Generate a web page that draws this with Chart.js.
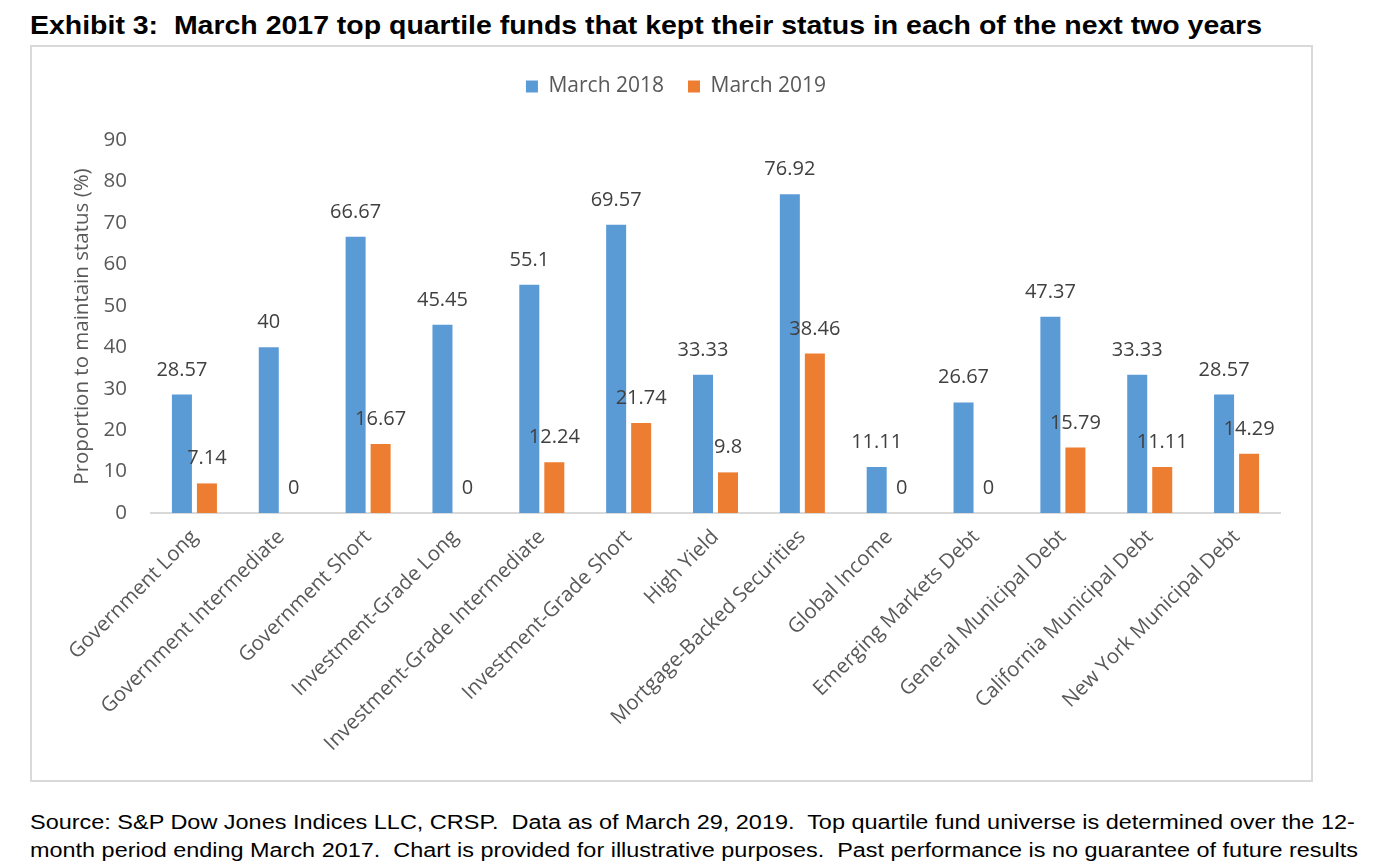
<!DOCTYPE html>
<html>
<head>
<meta charset="utf-8">
<script src="https://cdn.jsdelivr.net/npm/chart.js@4/dist/chart.umd.min.js"></script>
<style>
  body { margin: 0; background: #fff; width: 1380px; height: 863px; position: relative; overflow: hidden; }
  #title { position: absolute; left: 30px; top: 11px; font-family: "Liberation Sans", Arial, sans-serif; font-weight: bold; font-size: 25px; color: #000; white-space: pre; transform-origin: left top; }
  #box { position: absolute; left: 30px; top: 45px; width: 1279px; height: 733px; border: 2px solid #d9d9d9; }
  #source { position: absolute; left: 30px; top: 808px; font-family: "Liberation Sans", Arial, sans-serif; font-size: 20px; line-height: 28px; color: #000; white-space: pre; }
  #source div { transform-origin: left top; }
</style>
</head>
<body>
<div id="title">Exhibit 3:  March 2017 top quartile funds that kept their status in each of the next two years</div>
<div id="box"><canvas id="chart" width="1279" height="733"></canvas></div>
<div id="source"><div id="src1">Source: S&amp;P Dow Jones Indices LLC, CRSP.  Data as of March 29, 2019.  Top quartile fund universe is determined over the 12-</div><div id="src2">month period ending March 2017.  Chart is provided for illustrative purposes.  Past performance is no guarantee of future results</div></div>

<script>
const categories = [
  'Government Long', 'Government Intermediate', 'Government Short', 'Investment-Grade Long',
  'Investment-Grade Intermediate', 'Investment-Grade Short', 'High Yield', 'Mortgage-Backed Securities',
  'Global Income', 'Emerging Markets Debt', 'General Municipal Debt', 'California Municipal Debt',
  'New York Municipal Debt'
];
const march2018 = [28.57, 40, 66.67, 45.45, 55.1, 69.57, 33.33, 76.92, 11.11, 26.67, 47.37, 33.33, 28.57];
const march2019 = [7.14, 0, 16.67, 0, 12.24, 21.74, 9.8, 38.46, 0, 0, 15.79, 11.11, 14.29];
const yTicks = [0, 10, 20, 30, 40, 50, 60, 70, 80, 90];

const FONT = '"Open Sans", sans-serif';

// squeeze the fallback fonts to the width of the original lines
function fitWidth(el, target) {
  const w = el.getBoundingClientRect().width;
  el.style.transform = `scaleX(${target / w})`;
}
fitWidth(document.getElementById('title'), 1232);
fitWidth(document.getElementById('src1'), 1330);
fitWidth(document.getElementById('src2'), 1328);

// extra room under the legend, and centre it on the whole box
const legendGap = {
  id: 'legendGap',
  beforeInit(chart) {
    const legend = chart.legend;
    const fit = legend.fit;
    legend.fit = function () {
      fit.bind(legend)();
      this.height += 33;
    };
    const draw = legend.draw;
    legend.draw = function () {
      chart.ctx.save();
      chart.ctx.translate(20, 0);
      draw.bind(legend)();
      chart.ctx.restore();
    };
  }
};

const valueLabels = {
  id: 'valueLabels',
  afterDatasetsDraw(chart) {
    const ctx = chart.ctx;
    ctx.save();
    ctx.font = '20px ' + FONT;
    ctx.fillStyle = '#404040';
    ctx.textAlign = 'center';
    ctx.textBaseline = 'alphabetic';
    chart.data.datasets.forEach((ds, i) => {
      chart.getDatasetMeta(i).data.forEach((bar, j) => {
        ctx.fillText(String(ds.data[j]), bar.x, bar.y - 19);
      });
    });
    ctx.restore();
  }
};

new Chart(document.getElementById('chart'), {
  type: 'bar',
  data: {
    labels: categories,
    datasets: [
      { label: 'March 2018', data: march2018, backgroundColor: '#5b9bd5' },
      { label: 'March 2019', data: march2019, backgroundColor: '#ed7d31' }
    ]
  },
  options: {
    responsive: false,
    animation: false,
    devicePixelRatio: 1,
    categoryPercentage: 0.576,
    barPercentage: 0.8,
    layout: { padding: { top: 5, right: 31, left: 0, bottom: 0 } },
    plugins: {
      tooltip: { enabled: false },
      legend: {
        position: 'top',
        labels: {
          color: '#595959',
          font: { family: FONT, size: 21 },
          boxWidth: 12,
          boxHeight: 12,
          padding: 24
        }
      }
    },
    scales: {
      x: {
        grid: { display: false },
        border: { color: '#d9d9d9', width: 2 },
        ticks: {
          color: '#595959',
          font: { family: FONT, size: 20.5 },
          minRotation: 45,
          maxRotation: 45,
          autoSkip: false,
          padding: 4
        },
        afterFit(scale) { scale.height = 267; }
      },
      y: {
        min: 0,
        max: 90,
        afterBuildTicks(scale) { scale.ticks = yTicks.map(v => ({ value: v })); },
        grid: { display: false },
        border: { display: false },
        ticks: {
          color: '#595959',
          font: { family: FONT, size: 20.5 },
          padding: 16
        },
        title: {
          display: true,
          text: 'Proportion to maintain status (%)',
          color: '#595959',
          font: { family: FONT, size: 20.5 },
          padding: { top: 38, bottom: 0 }
        },
        afterFit(scale) { scale.width = 119; }
      }
    }
  },
  plugins: [legendGap, valueLabels]
});
</script>
</body>
</html>
